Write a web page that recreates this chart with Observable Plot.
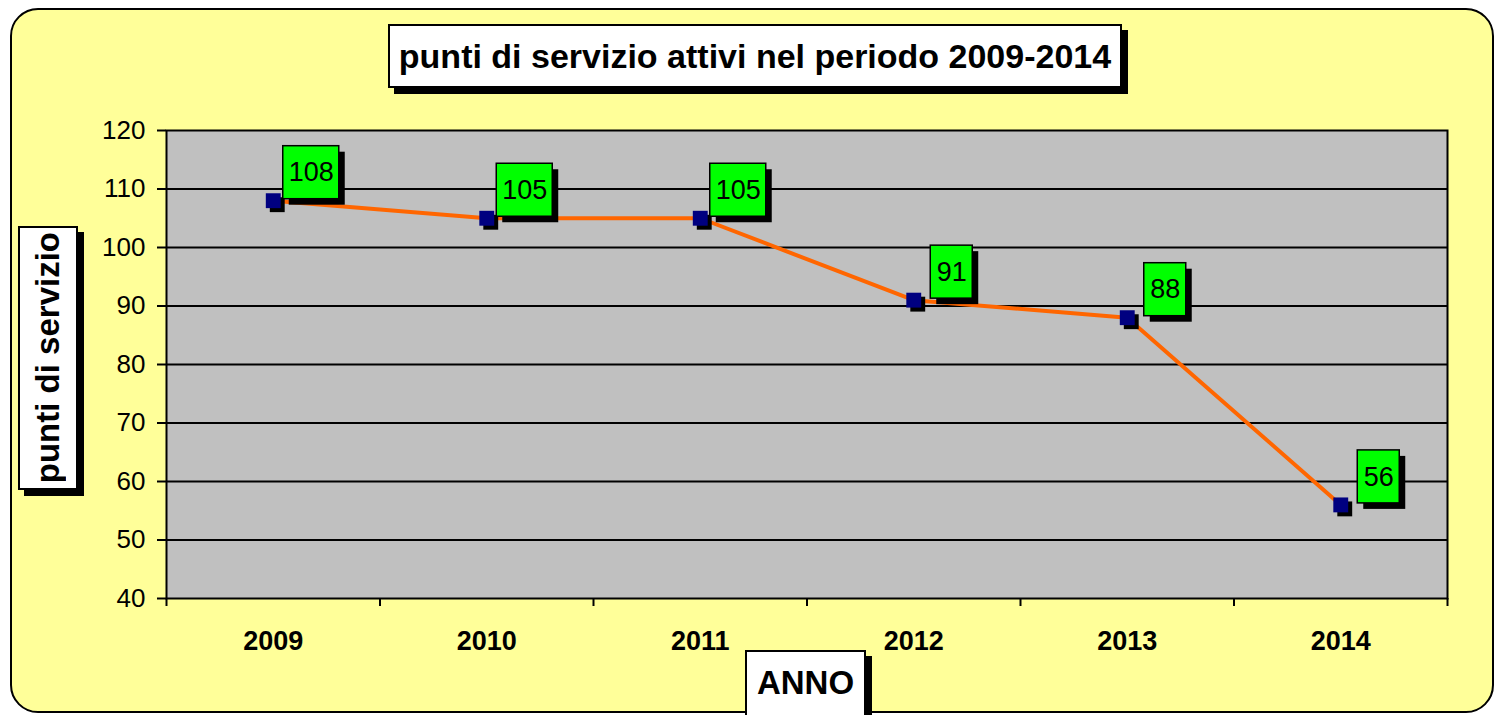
<!DOCTYPE html>
<html>
<head>
<meta charset="utf-8">
<script src="https://cdn.jsdelivr.net/npm/d3@7"></script>
<script src="https://cdn.jsdelivr.net/npm/@observablehq/plot@0.6"></script>
<style>
  html, body { margin: 0; padding: 0; background: #ffffff; }
  body { width: 1495px; height: 715px; overflow: hidden; position: relative; font-family: Arial, "Liberation Sans", sans-serif; }
  #panel { position: absolute; left: 10px; top: 8px; width: 1484px; height: 705px; box-sizing: border-box;
           background: #FFFF99; border: 2px solid #000; border-radius: 28px; }
  #chart { position: absolute; left: 0; top: 0; }
  .box { position: absolute; box-sizing: border-box; background: #fff; border: 2px solid #000;
         box-shadow: 6px 6px 0 #000; display: flex; align-items: center; justify-content: center;
         font-weight: bold; color: #000; white-space: nowrap; }
  #title { left: 388px; top: 24px; width: 734px; height: 64px; font-size: 34px; }
  #ylab { left: 18px; top: 226px; width: 60px; height: 264px; font-size: 33px; }
  #ylab span { writing-mode: vertical-rl; transform: rotate(180deg); }
  #xlab { left: 745px; top: 650px; width: 121px; height: 70px; font-size: 33px; align-items: flex-start; padding-top: 12px; }
</style>
</head>
<body>
<div id="panel"></div>
<div id="chart"></div>
<div class="box" id="title"></div>
<div class="box" id="ylab"><span></span></div>
<div class="box" id="xlab"></div>
<script>
// ---- data ----
const years = [2009, 2010, 2011, 2012, 2013, 2014];
const values = [108, 105, 105, 91, 88, 56];
const yTicks = [40, 50, 60, 70, 80, 90, 100, 110, 120];
const titleText = "punti di servizio attivi nel periodo 2009-2014";
const yLabelText = "punti di servizio";
const xLabelText = "ANNO";

document.getElementById("title").textContent = titleText;
document.querySelector("#ylab span").textContent = yLabelText;
document.getElementById("xlab").textContent = xLabelText;

const data = years.map((year, i) => ({year, value: values[i]}));
const boundaries = years.map(y => y - 0.5).concat([years[years.length - 1] + 0.5]);
const gridValues = yTicks.slice(1, -1);

const LDX = 38, LDY = -28;

const labels = Plot.text(data, {
  x: "year", y: "value", text: d => String(d.value),
  dx: LDX, dy: LDY, fontSize: 27, fill: "#000",
  render(index, scales, vals, dims, context, next) {
    const textG = next(index, scales, vals, dims, context);
    const g = d3.create("svg:g");
    for (const i of index) {
      const s = String(data[i].value);
      const w = 14 * s.length + 14, h = 53;
      const cx = vals.x[i] + LDX, cy = vals.y[i] + LDY;
      g.append("rect").attr("x", cx - w / 2 + 6).attr("y", cy - h / 2 + 6)
        .attr("width", w).attr("height", h).attr("fill", "#000");
      g.append("rect").attr("x", cx - w / 2).attr("y", cy - h / 2)
        .attr("width", w).attr("height", h).attr("fill", "#00FF00")
        .attr("stroke", "#000").attr("stroke-width", 1.5);
    }
    g.append(() => textG);
    return g.node();
  }
});

const chart = Plot.plot({
  width: 1495,
  height: 715,
  marginLeft: 166,
  marginRight: 48,
  marginTop: 130,
  marginBottom: 117,
  style: {background: "transparent", color: "#000", fontFamily: "Arial, 'Liberation Sans', sans-serif", overflow: "visible"},
  x: {type: "linear", domain: [boundaries[0], boundaries[boundaries.length - 1]]},
  y: {type: "linear", domain: [yTicks[0], yTicks[yTicks.length - 1]]},
  marks: [
    Plot.frame({fill: "#C0C0C0", stroke: "none"}),
    Plot.ruleY(gridValues, {stroke: "#000", strokeWidth: 2}),
    Plot.frame({stroke: "#000", strokeWidth: 2}),
    Plot.axisY({ticks: yTicks, tickSize: 9, tickPadding: 12, fontSize: 26, tickFormat: d => String(d), label: null, strokeWidth: 2}),
    Plot.axisX({ticks: boundaries, tickSize: 8, tickFormat: () => "", label: null, strokeWidth: 2}),
    Plot.axisX({ticks: years, tickSize: 0, tickPadding: 32, fontSize: 27, fontWeight: "bold", tickFormat: d => String(d), label: null}),
    Plot.line(data, {x: "year", y: "value", stroke: "#FF6600", strokeWidth: 4}),
    Plot.dot(data, {x: "year", y: "value", symbol: "square", r: 8.4, fill: "#000", stroke: "none", dx: 4, dy: 4}),
    Plot.dot(data, {x: "year", y: "value", symbol: "square", r: 8.4, fill: "#000080", stroke: "none"}),
    labels
  ]
});
document.getElementById("chart").appendChild(chart);
</script>
</body>
</html>
